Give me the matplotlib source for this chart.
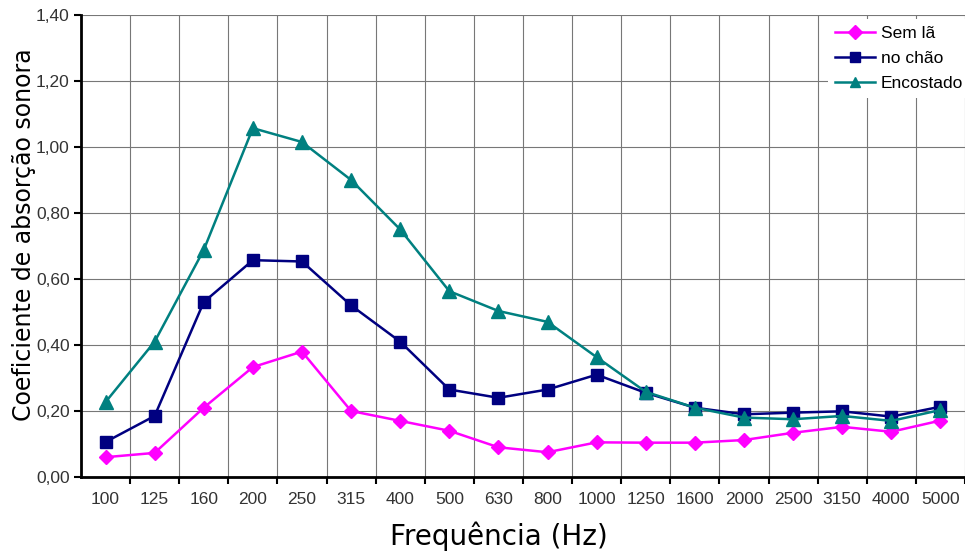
import numpy as np
import matplotlib.pyplot as plt

freqs = ['100', '125', '160', '200', '250', '315', '400', '500', '630', '800',
         '1000', '1250', '1600', '2000', '2500', '3150', '4000', '5000']

sem_la = [0.06, 0.073, 0.21, 0.333, 0.38, 0.20, 0.17, 0.14, 0.09, 0.075,
          0.105, 0.104, 0.104, 0.112, 0.134, 0.152, 0.137, 0.171]
no_chao = [0.106, 0.185, 0.53, 0.657, 0.653, 0.52, 0.41, 0.265, 0.24, 0.265,
           0.31, 0.255, 0.21, 0.19, 0.195, 0.199, 0.183, 0.213]
encostado = [0.227, 0.41, 0.688, 1.057, 1.015, 0.90, 0.75, 0.563, 0.503, 0.47,
             0.363, 0.258, 0.21, 0.18, 0.175, 0.185, 0.17, 0.203]

yticks = [0.0, 0.2, 0.4, 0.6, 0.8, 1.0, 1.2, 1.4]

fig = plt.figure(figsize=(9.65, 5.54), dpi=100)
ax = fig.add_axes([0.0839, 0.139, 0.9161, 0.834])

x = np.arange(len(freqs))
ax.plot(x, sem_la, color='#FF00FF', marker='D', markersize=7.5, lw=1.8, label='Sem lã', zorder=3)
ax.plot(x, no_chao, color='#000080', marker='s', markersize=8.5, lw=1.8, label='no chão', zorder=4)
ax.plot(x, encostado, color='#008080', marker='^', markersize=10, lw=1.8, label='Encostado', zorder=5)

ax.set_xlim(-0.5, -0.5 + 884 / 49.6)
ax.set_ylim(0, 1.4)

# category boundaries for ticks and vertical grid
ax.set_xticks(x + 0.5)
ax.set_xticklabels([])
ax.set_xticks(x, minor=True)
ax.set_xticklabels(freqs, minor=True)
ax.tick_params(axis='x', which='major', direction='out', length=5, width=1.5, color='black')
ax.tick_params(axis='x', which='minor', length=0, pad=11, labelsize=12.5, labelcolor='#333333')

ax.set_yticks(yticks)
ax.set_yticklabels([('%.2f' % v).replace('.', ',') for v in yticks])
ax.tick_params(axis='y', direction='out', length=5, width=1.5, color='black',
               labelsize=12.5, labelcolor='#333333', pad=3)
for lab in ax.get_xticklabels(minor=True) + ax.get_yticklabels():
    lab.set_fontfamily('Liberation Sans')

ax.grid(True, which='major', color='#777777', lw=0.8)

for s in ['top', 'right']:
    ax.spines[s].set_visible(False)
ax.spines['left'].set_linewidth(2)
ax.spines['bottom'].set_linewidth(2)

ax.set_ylabel('Coeficiente de absorção sonora', fontsize=17)
ax.yaxis.set_label_coords(-0.051, 0.524)
ax.set_xlabel('Frequência (Hz)', fontsize=20)
ax.xaxis.set_label_coords(0.473, -0.097)

leg = ax.legend(loc='upper right', bbox_to_anchor=(1.014, 0.981), bbox_transform=fig.transFigure,
                frameon=True, fancybox=False, framealpha=1, edgecolor='none', facecolor='white',
                handlelength=2.3, handletextpad=0.3, labelspacing=0.55,
                prop={'family': 'Liberation Sans', 'size': 12.5})
leg.set_zorder(10)
for h in leg.legend_handles:
    h.set_markersize(7)

fig.savefig('out.png', dpi=100)
